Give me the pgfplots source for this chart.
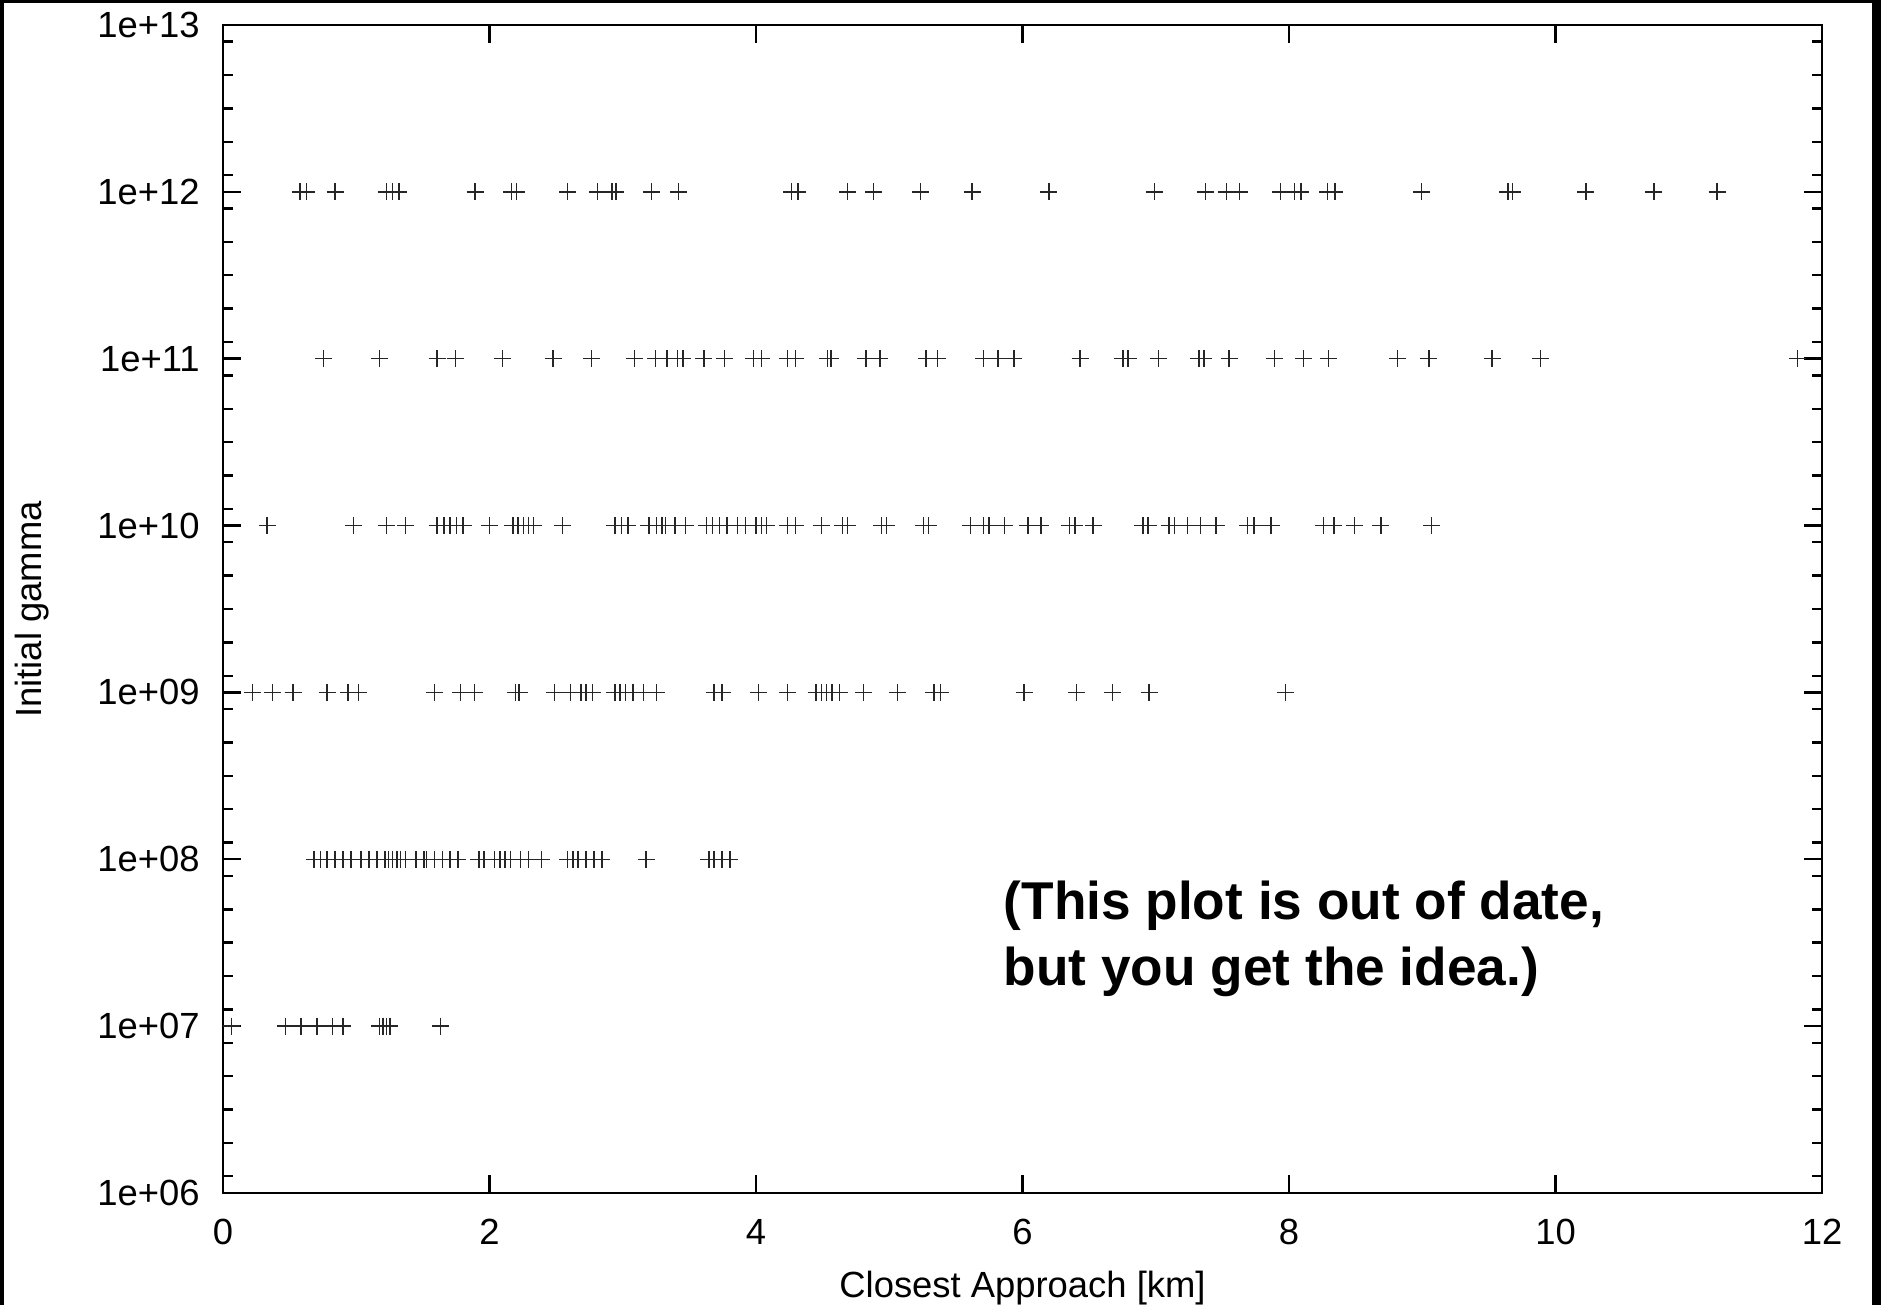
\documentclass[border=0pt]{standalone}
\usepackage{pgfplots}
\pgfplotsset{compat=1.18}
\usepackage{fontspec}
\setmainfont{Liberation Sans}
\begin{document}
\begin{tikzpicture}
\useasboundingbox (0,0) rectangle (940.5pt,652.5pt);
\fill[black] (0,0) rectangle (940.5pt,652.5pt);
\fill[white] (2pt,0) rectangle (936pt,651pt);
\begin{axis}[
  at={(111.5pt,56pt)}, anchor=south west,
  scale only axis, width=799.5pt, height=584pt,
  xmin=0, xmax=12, ymin=1e6, ymax=1e13, ymode=log,
  xtick={0,2,4,6,8,10,12},
  xticklabels={0,2,4,6,8,10,12},
  ytick={1e6,1e7,1e8,1e9,1e10,1e11,1e12,1e13},
  yticklabels={1e+06,1e+07,1e+08,1e+09,1e+10,1e+11,1e+12,1e+13},
  minor ytick={1.2589e6,1.9953e6,3.1623e6,5.0119e6,7.9433e6,
               1.2589e7,1.9953e7,3.1623e7,5.0119e7,7.9433e7,
               1.2589e8,1.9953e8,3.1623e8,5.0119e8,7.9433e8,
               1.2589e9,1.9953e9,3.1623e9,5.0119e9,7.9433e9,
               1.2589e10,1.9953e10,3.1623e10,5.0119e10,7.9433e10,
               1.2589e11,1.9953e11,3.1623e11,5.0119e11,7.9433e11,
               1.2589e12,1.9953e12,3.1623e12,5.0119e12,7.9433e12},
  tick align=inside, xtick pos=both, ytick pos=both,
  major tick length=8.8pt, minor tick length=5pt,
  axis line style={line width=1.2pt},
  every tick/.style={black, line width=1.2pt},
  ticklabel style={font=\fontsize{18.2}{21}\selectfont, inner sep=0pt},
  yticklabel style={anchor=east, xshift=-11.5pt},
  xticklabel style={anchor=north, yshift=-13pt},
  clip=false,
]
\addplot[only marks, mark=+, mark size=4.25pt, line width=0.75pt, black!85] coordinates {
(0.578,1e12)(0.625,1e12)(0.841,1e12)(1.226,1e12)(1.273,1e12)(1.320,1e12)(1.893,1e12)(2.164,1e12)(2.203,1e12)(2.587,1e12)(2.811,1e12)(2.921,1e12)(2.948,1e12)(3.215,1e12)(3.419,1e12)(4.267,1e12)(4.314,1e12)(4.687,1e12)(4.883,1e12)(5.236,1e12)(5.621,1e12)(6.197,1e12)(6.990,1e12)(7.374,1e12)(7.531,1e12)(7.629,1e12)(7.935,1e12)(8.041,1e12)(8.089,1e12)(8.289,1e12)(8.344,1e12)(8.995,1e12)(9.643,1e12)(9.678,1e12)(10.228,1e12)(10.738,1e12)(11.213,1e12)
(0.755,1e11)(1.175,1e11)(1.606,1e11)(1.744,1e11)(2.097,1e11)(2.477,1e11)(2.764,1e11)(3.090,1e11)(3.247,1e11)(3.333,1e11)(3.411,1e11)(3.451,1e11)(3.608,1e11)(3.765,1e11)(3.981,1e11)(4.040,1e11)(4.236,1e11)(4.295,1e11)(4.538,1e11)(4.561,1e11)(4.824,1e11)(4.930,1e11)(5.276,1e11)(5.362,1e11)(5.708,1e11)(5.817,1e11)(5.935,1e11)(6.432,1e11)(6.754,1e11)(6.793,1e11)(7.021,1e11)(7.323,1e11)(7.362,1e11)(7.551,1e11)(7.892,1e11)(8.108,1e11)(8.297,1e11)(8.815,1e11)(9.050,1e11)(9.525,1e11)(9.886,1e11)(11.817,1e11)
(0.331,1e10)(0.978,1e10)(1.226,1e10)(1.371,1e10)(1.606,1e10)(1.657,1e10)(1.704,1e10)(1.751,1e10)(1.802,1e10)(1.999,1e10)(2.175,1e10)(2.215,1e10)(2.254,1e10)(2.293,1e10)(2.332,1e10)(2.548,1e10)(2.941,1e10)(2.992,1e10)(3.039,1e10)(3.196,1e10)(3.255,1e10)(3.294,1e10)(3.321,1e10)(3.392,1e10)(3.470,1e10)(3.627,1e10)(3.675,1e10)(3.726,1e10)(3.784,1e10)(3.863,1e10)(3.922,1e10)(4.000,1e10)(4.040,1e10)(4.079,1e10)(4.236,1e10)(4.295,1e10)(4.491,1e10)(4.648,1e10)(4.687,1e10)(4.942,1e10)(4.981,1e10)(5.256,1e10)(5.295,1e10)(5.609,1e10)(5.708,1e10)(5.747,1e10)(5.864,1e10)(6.040,1e10)(6.138,1e10)(6.354,1e10)(6.393,1e10)(6.530,1e10)(6.903,1e10)(6.943,1e10)(7.100,1e10)(7.139,1e10)(7.237,1e10)(7.335,1e10)(7.453,1e10)(7.688,1e10)(7.739,1e10)(7.865,1e10)(8.257,1e10)(8.336,1e10)(8.493,1e10)(8.689,1e10)(9.070,1e10)
(0.221,1e9)(0.370,1e9)(0.527,1e9)(0.782,1e9)(0.939,1e9)(1.018,1e9)(1.587,1e9)(1.783,1e9)(1.889,1e9)(2.195,1e9)(2.222,1e9)(2.489,1e9)(2.607,1e9)(2.686,1e9)(2.725,1e9)(2.772,1e9)(2.941,1e9)(2.980,1e9)(3.019,1e9)(3.078,1e9)(3.156,1e9)(3.255,1e9)(3.686,1e9)(3.745,1e9)(4.020,1e9)(4.236,1e9)(4.452,1e9)(4.491,1e9)(4.530,1e9)(4.569,1e9)(4.628,1e9)(4.805,1e9)(5.060,1e9)(5.335,1e9)(5.386,1e9)(6.012,1e9)(6.405,1e9)(6.676,1e9)(6.950,1e9)(7.975,1e9)
(0.684,1e8)(0.731,1e8)(0.782,1e8)(0.841,1e8)(0.900,1e8)(0.959,1e8)(1.037,1e8)(1.096,1e8)(1.155,1e8)(1.214,1e8)(1.241,1e8)(1.273,1e8)(1.304,1e8)(1.332,1e8)(1.371,1e8)(1.449,1e8)(1.508,1e8)(1.528,1e8)(1.587,1e8)(1.646,1e8)(1.704,1e8)(1.763,1e8)(1.920,1e8)(1.959,1e8)(2.038,1e8)(2.077,1e8)(2.116,1e8)(2.156,1e8)(2.234,1e8)(2.293,1e8)(2.391,1e8)(2.587,1e8)(2.627,1e8)(2.666,1e8)(2.725,1e8)(2.784,1e8)(2.843,1e8)(3.176,1e8)(3.647,1e8)(3.686,1e8)(3.745,1e8)(3.804,1e8)
(0.064,1e7)(0.468,1e7)(0.586,1e7)(0.704,1e7)(0.821,1e7)(0.900,1e7)(1.175,1e7)(1.202,1e7)(1.226,1e7)(1.253,1e7)(1.634,1e7)
};
\end{axis}
\node[anchor=base, font=\fontsize{18.2}{21}\selectfont] at (511.25pt,3.5pt) {Closest Approach [km]};
\node[anchor=base, rotate=90, font=\fontsize{18.2}{21}\selectfont] at (20.8pt,347.7pt) {Initial gamma};
\node[anchor=base west, font=\fontsize{26.6}{30}\selectfont\bfseries] at (498.4pt,192.5pt) {(This plot is out of date,};
\node[anchor=base west, font=\fontsize{26.6}{30}\selectfont\bfseries] at (498.4pt,159.5pt) {but you get the idea.)};
\end{tikzpicture}
\end{document}
